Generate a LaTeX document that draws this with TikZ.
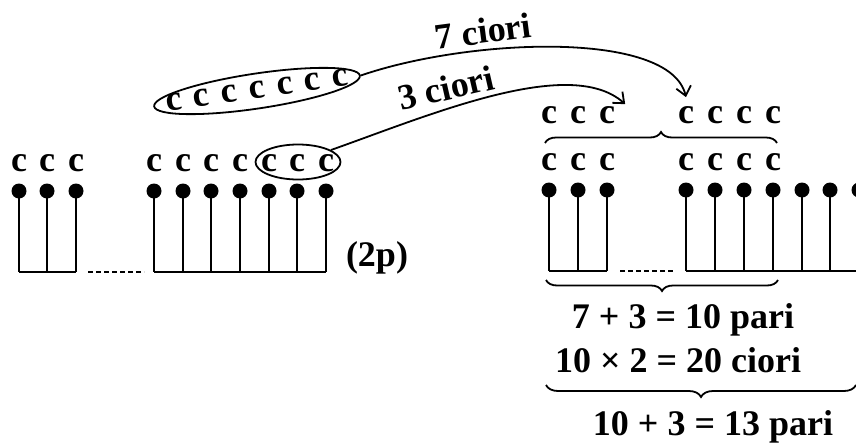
\documentclass[tikz,border=0pt]{standalone}
\usepackage{fontspec}
\setmainfont{Liberation Serif}
\usetikzlibrary{arrows.meta,decorations.pathreplacing,shapes.geometric}

\tikzset{
  ball/.style={circle, fill, inner sep=0pt, minimum size=15pt},
  letter/.style={inner sep=2pt, font=\fontsize{36}{42}\selectfont\bfseries},
  sum/.style={inner sep=1pt, font=\fontsize{36}{42}\selectfont\bfseries},
  wire/.style={line width=1.8pt},
  jump/.style={line width=1.8pt, -{Straight Barb[length=9pt,width=15pt]}},
  curly/.style={line width=1.8pt, decorate, decoration={brace, amplitude=11pt}}
}

\begin{document}
\begin{tikzpicture}[x=1pt, y=-1pt]
\useasboundingbox (0,0) rectangle (856,447);

\def \leftbase {272}
\def \rightbase {271}
\coordinate (baseL) at (0,\leftbase);
\coordinate (baseR) at (0,\rightbase);

% left row of pairs
\foreach \x [count=\i] in {19,47,76,154,183,211,240,269,297,326}
{
  \draw[wire] (\x,191) -- (\x,\leftbase);
  \node[ball] (p\i) at (\x,191) {};
  \node[letter] (c\i) at (\x,163) {c};
}
\draw[wire] (p1 |- baseL) -- (p3 |- baseL);
\draw[wire, dash pattern=on 5pt off 3pt] ([xshift=12pt]p3 |- baseL) -- ([xshift=-10pt]p4 |- baseL);
\draw[wire] (p4 |- baseL) -- (p10 |- baseL);
\node[sum] (twop) at (377,258) {(2p)};

% the odd ones
\node[draw, wire, ellipse, minimum width=85pt, minimum height=35pt] (few) at (298,162) {};
\node[draw, wire, ellipse, rotate=8.5, minimum width=208pt, minimum height=35pt] (seven) at (257,91) {};
\foreach \k in {-3,...,3}
  \node[letter, rotate=8.5] (s\k) at ({257+27.7*\k},{90-4.1*\k}) {c};

% right row of pairs
\foreach \x [count=\i] in {549,578,607,686,715,744,773,802,830,859}
{
  \draw[wire] (\x,190) -- (\x,\rightbase);
  \node[ball] (q\i) at (\x,190) {};
}
\foreach \x [count=\i] in {549,578,607,686,715,744,773}
{
  \node[letter] (m\i) at (\x,162) {c};
  \node[letter] (t\i) at (\x,115) {c};
}
\draw[wire] (q1 |- baseR) -- (q3 |- baseR);
\draw[wire, dash pattern=on 5pt off 3pt] ([xshift=13pt]q3 |- baseR) -- ([xshift=-13pt]q4 |- baseR);
\draw[wire] (q4 |- baseR) -- (q10 |- baseR);

% moves
\draw[jump] (seven.east) .. controls (470,38) and (670,30) .. ([yshift=7pt]t4.north);
\draw[jump] (few.20) .. controls (430,115) and (570,55) .. ([xshift=8pt]t3.north east);
\node[sum, rotate=7.5] (seventxt) at (483,31) {7 ciori};
\node[sum, rotate=13] (threetxt) at (446,88) {3 ciori};

% braces
\coordinate (ob1) at (545,143);
\coordinate (ob2) at (777,143);
\coordinate (ub1) at (546,280);
\coordinate (ub2) at (778,280);
\coordinate (bb1) at (546,385);
\coordinate (bb2) at (856,385);
\draw[curly] (ob1) -- (ob2);
\draw[curly] (ub2) -- (ub1);
\draw[curly, decoration={amplitude=12pt}] (bb2) -- (bb1);

\node[sum] (pairs) at (683,320) {7 + 3 = 10 pari};
\node[sum] (socks) at (678,360) {10 × 2 = 20 ciori};
\node[sum] (total) at (713,427) {10 + 3 = 13 pari};
\end{tikzpicture}
\end{document}
